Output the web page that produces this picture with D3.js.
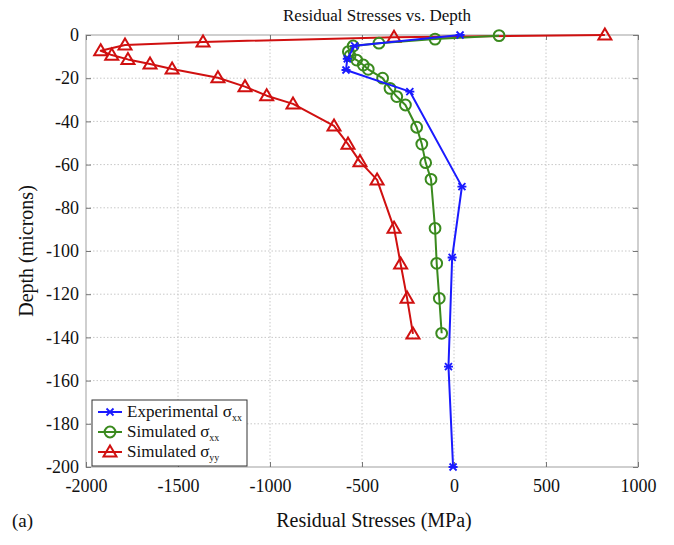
<!DOCTYPE html>
<html>
<head>
<meta charset="utf-8">
<script src="https://cdn.jsdelivr.net/npm/d3@7/dist/d3.min.js"></script>
<style>
  html, body { margin: 0; padding: 0; background: #fff; }
  svg, svg text { font-family: "Liberation Serif", "Times New Roman", Times, "DejaVu Serif", serif !important; fill: #111; }
</style>
</head>
<body>
<svg id="chart" width="674" height="545"></svg>
<script>
// Residual stress (MPa) against depth (microns)
const expStress = [33, -540, -580, -587, -240, 43, -10, -30, -5];
const expDepth  = [0, -5, -11, -16.2, -26.2, -70.2, -103, -153.5, -200];

const simXXStress = [245, -103, -408, -548, -574, -565, -529, -493, -466, -388, -348, -311, -264, -203, -175, -154, -125, -103, -94, -80, -67];
const simXXDepth  = [-0.3, -1.9, -3.8, -5.1, -7.7, -9.6, -11.6, -13.9, -15.9, -20, -24.7, -28.5, -32.4, -42.7, -50.5, -59.1, -66.8, -89.5, -105.7, -121.9, -138.1];

const simYYStress = [820, -326, -1364, -1788, -1920, -1860, -1772, -1652, -1532, -1283, -1136, -1018, -875, -652, -576, -511, -418, -326, -290, -255, -223];
const simYYDepth  = [0, -1, -3.2, -4.6, -7.3, -9.3, -11.3, -13.4, -15.7, -19.8, -23.9, -28.1, -31.9, -42.1, -50.5, -58.6, -67.1, -89.4, -106, -121.8, -138.4];

const xTicks = [-2000, -1500, -1000, -500, 0, 500, 1000];
const yTicks = [0, -20, -40, -60, -80, -100, -120, -140, -160, -180, -200];

const seriesNames = ["Experimental", "Simulated", "Simulated"];
const seriesSubs = ["xx", "xx", "yy"];
const seriesColors = ["#1a1aff", "#3a8a1e", "#d01010"];

const FONT = "'Liberation Serif', 'Times New Roman', serif";
const svg = d3.select("#chart").attr("font-family", FONT);
const plotLeft = 86, plotRight = 638, plotTop = 35, plotBottom = 467;

const x = d3.scaleLinear().domain([-2000, 1000]).range([plotLeft, plotRight]);
const y = d3.scaleLinear().domain([0, -200]).range([plotTop, plotBottom]);
const plainNum = d => String(d);

// grid
const grid = svg.append("g");
grid.selectAll(".gx").data(xTicks.slice(1, -1)).join("line")
  .attr("x1", d => x(d)).attr("x2", d => x(d)).attr("y1", plotTop).attr("y2", plotBottom)
  .attr("stroke", "#c8c8c8").attr("stroke-width", 1).attr("stroke-dasharray", "1.5,2");
grid.selectAll(".gy").data(yTicks.slice(1, -1)).join("line")
  .attr("y1", d => y(d)).attr("y2", d => y(d)).attr("x1", plotLeft).attr("x2", plotRight)
  .attr("stroke", "#c8c8c8").attr("stroke-width", 1).attr("stroke-dasharray", "1.5,2");

// frame
svg.append("rect").attr("x", plotLeft).attr("y", plotTop).attr("width", plotRight - plotLeft).attr("height", plotBottom - plotTop)
  .attr("fill", "none").attr("stroke", "#b0b0b0").attr("stroke-width", 1.2);

// axes (inward ticks)
const xAxis = svg.append("g").attr("transform", `translate(0,${plotBottom})`)
  .call(d3.axisBottom(x).tickValues(xTicks).tickSize(-5).tickPadding(12).tickFormat(plainNum));
const yAxis = svg.append("g").attr("transform", `translate(${plotLeft},0)`)
  .call(d3.axisLeft(y).tickValues(yTicks).tickSize(-5).tickPadding(7).tickFormat(plainNum));
const yAxisR = svg.append("g").attr("transform", `translate(${plotRight},0)`)
  .call(d3.axisRight(y).tickValues(yTicks).tickSize(-5).tickFormat(""));
const xAxisT = svg.append("g").attr("transform", `translate(0,${plotTop})`)
  .call(d3.axisTop(x).tickValues(xTicks).tickSize(-5).tickFormat(""));
[xAxis, yAxis, yAxisR, xAxisT].forEach(a => {
  a.attr("font-family", FONT);
  a.select(".domain").remove();
  a.selectAll(".tick line").attr("stroke", "#777");
  a.selectAll("text").attr("font-size", 18).attr("fill", "#111");
});

// series
const line = d3.line().x(d => x(d[0])).y(d => y(d[1]));
const zip = (a, b) => a.map((v, i) => [v, b[i]]);
const expData = zip(expStress, expDepth);
const xxData = zip(simXXStress, simXXDepth);
const yyData = zip(simYYStress, simYYDepth);

function drawMarker(g, kind, color, cx, cy) {
  if (kind === "x") {
    const s = 3.5;
    g.append("path").attr("d", `M${cx - s},${cy - s}L${cx + s},${cy + s}M${cx - s},${cy + s}L${cx + s},${cy - s}M${cx - s - 1},${cy}L${cx + s + 1},${cy}`)
      .attr("stroke", color).attr("stroke-width", 1.8).attr("fill", "none");
  } else if (kind === "o") {
    g.append("circle").attr("cx", cx).attr("cy", cy).attr("r", 5.4)
      .attr("fill", "none").attr("stroke", color).attr("stroke-width", 2);
  } else {
    const h = 6.5;
    g.append("path").attr("d", `M${cx},${cy - h}L${cx + h},${cy + h * 0.7}L${cx - h},${cy + h * 0.7}Z`)
      .attr("fill", "none").attr("stroke", color).attr("stroke-width", 2);
  }
}

const plot = svg.append("g");
[[yyData, "t", seriesColors[2]], [xxData, "o", seriesColors[1]], [expData, "x", seriesColors[0]]].forEach(([data, kind, color]) => {
  plot.append("path").datum(data).attr("d", line)
    .attr("fill", "none").attr("stroke", color).attr("stroke-width", 2).attr("stroke-linejoin", "round");
  const mg = plot.append("g");
  data.forEach(d => drawMarker(mg, kind, color, x(d[0]), y(d[1])));
});

// legend
const lg = svg.append("g");
lg.append("rect").attr("x", 92).attr("y", 400).attr("width", 155).attr("height", 66)
  .attr("fill", "#fff").attr("stroke", "#333").attr("stroke-width", 1);
const kinds = ["x", "o", "t"];
seriesNames.forEach((name, i) => {
  const ly = 412 + i * 20;
  lg.append("line").attr("x1", 98).attr("x2", 122).attr("y1", ly).attr("y2", ly)
    .attr("stroke", seriesColors[i]).attr("stroke-width", 2);
  drawMarker(lg, kinds[i], seriesColors[i], 110, ly);
  const t = lg.append("text").attr("x", 127).attr("y", ly + 5).attr("font-size", 17);
  t.append("tspan").text(name + " σ");
  t.append("tspan").attr("font-size", 10).attr("dy", 4).text(seriesSubs[i]);
});

// titles
svg.append("text").attr("x", 377).attr("y", 21).attr("text-anchor", "middle").attr("font-size", 17)
  .text("Residual Stresses vs. Depth");
svg.append("text").attr("x", 374).attr("y", 527).attr("text-anchor", "middle").attr("font-size", 20)
  .text("Residual Stresses (MPa)");
svg.append("text").attr("x", 12).attr("y", 527).attr("font-size", 19).text("(a)");
svg.append("text").attr("transform", "translate(33,251) rotate(-90)").attr("text-anchor", "middle").attr("font-size", 20)
  .text("Depth (microns)");
</script>
</body>
</html>
